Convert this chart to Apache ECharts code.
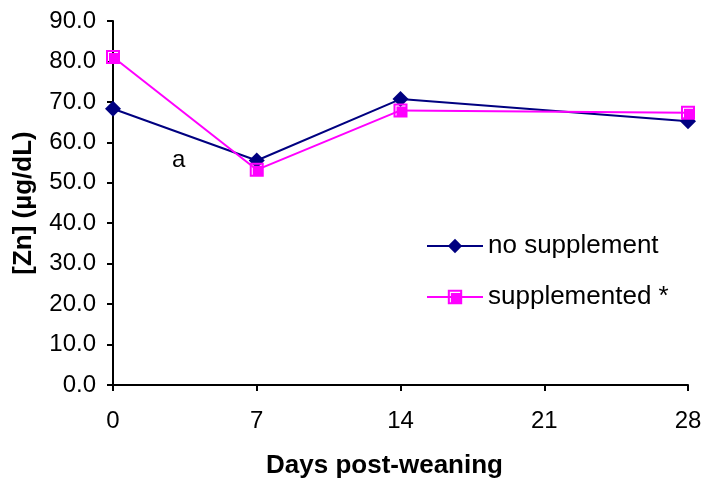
<!DOCTYPE html>
<html>
<head>
<meta charset="utf-8">
<script src="https://cdn.jsdelivr.net/npm/echarts@6/dist/echarts.min.js"></script>
<style>
  html, body { margin: 0; padding: 0; background: #fff; }
  #chart { width: 706px; height: 482px; }
</style>
</head>
<body>
<div id="chart"></div>
<script>
// Serum zinc over the post-weaning period
const days = [0, 7, 14, 28];
const noSupplement = [68.3, 55.5, 70.7, 65.2];
const supplemented = [81.1, 53.2, 67.9, 67.3];
const seriesNames = ['no supplement', 'supplemented *'];
const noteLabel = { text: 'a', day: 3.2, value: 55.6 };

const FONT = 'Liberation Sans, Arial, sans-serif';

// Square marker with a light inner corner highlight
const squareMarker = 'path://M0,0H14V14H0Z M2,2V12H3V3H12V2Z';

const chart = echarts.init(document.getElementById('chart'));
chart.setOption({
  animation: false,
  backgroundColor: '#ffffff',
  grid: { left: 113, right: 18, top: 21, bottom: 97, outerBoundsMode: 'none', containLabel: false },
  xAxis: {
    type: 'value',
    min: 0, max: 28, interval: 7,
    name: 'Days post-weaning',
    nameLocation: 'middle',
    nameGap: 68,
    nameTextStyle: {
      fontFamily: FONT, fontSize: 26, fontWeight: 'bold', color: '#000',
      padding: [0, 32, 0, 0]
    },
    axisLine: { lineStyle: { color: '#000', width: 2 } },
    axisTick: { length: 6, lineStyle: { color: '#000', width: 2 } },
    axisLabel: { fontFamily: FONT, fontSize: 24, color: '#000', margin: 24 },
    splitLine: { show: false }
  },
  yAxis: {
    type: 'value',
    min: 0, max: 90, interval: 10,
    name: '[Zn] (µg/dL)',
    nameLocation: 'middle',
    nameGap: 76,
    nameTextStyle: { fontFamily: FONT, fontSize: 26, fontWeight: 'bold', color: '#000' },
    axisLine: { show: true, lineStyle: { color: '#000', width: 2 } },
    axisTick: { show: true, length: 6, lineStyle: { color: '#000', width: 2 } },
    axisLabel: {
      fontFamily: FONT, fontSize: 24, color: '#000', margin: 17,
      formatter: v => v.toFixed(1)
    },
    splitLine: { show: false }
  },
  legend: {
    orient: 'vertical',
    left: 421, top: 228,
    itemWidth: 56, itemHeight: 18, itemGap: 25,
    textStyle: { fontFamily: FONT, fontSize: 26, color: '#000', lineHeight: 26 },
    data: seriesNames
  },
  series: [
    {
      name: seriesNames[0],
      type: 'line',
      data: days.map((d, i) => [d, noSupplement[i]]),
      symbol: 'diamond',
      symbolSize: 16,
      lineStyle: { color: '#000080', width: 2 },
      itemStyle: { color: '#000080' },
      z: 3,
      markPoint: {
        symbol: 'circle', symbolSize: 0,
        label: {
          show: true, formatter: noteLabel.text,
          fontFamily: FONT, fontSize: 24, color: '#000'
        },
        data: [{ coord: [noteLabel.day, noteLabel.value] }]
      }
    },
    {
      name: seriesNames[1],
      type: 'line',
      data: days.map((d, i) => [d, supplemented[i]]),
      symbol: squareMarker,
      symbolSize: 14,
      lineStyle: { color: '#ff00ff', width: 2 },
      itemStyle: { color: '#ff00ff' },
      z: 4
    }
  ]
});
</script>
</body>
</html>
